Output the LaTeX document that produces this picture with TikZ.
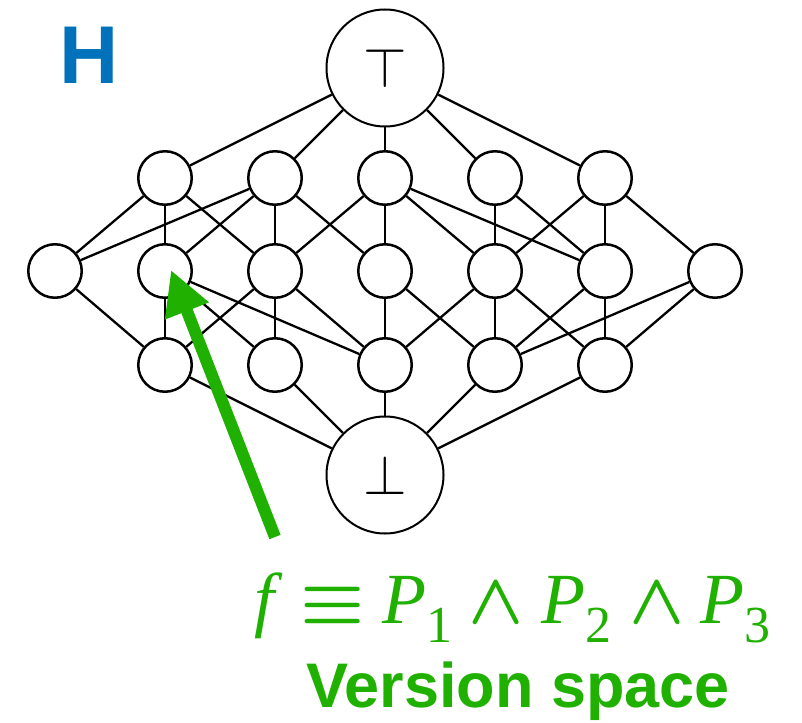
\RequirePackage{fix-cm}
\documentclass[tikz,border=0pt]{standalone}
\usepackage{fontspec}
\setmainfont{Liberation Serif}
\newfontfamily\headsans{Liberation Sans}
\usetikzlibrary{arrows.meta}
\definecolor{hblue}{RGB}{0,114,187}
\definecolor{vsgreen}{RGB}{31,176,0}
% index digits dropped below the baseline
\newcommand\lowdigit[1]{\raisebox{-19pt}{\fontsize{52}{52}\selectfont #1}}
% heavier operator glyphs
\newcommand\heavyop[1]{{\boldmath$#1$}}

\begin{document}
\begin{tikzpicture}[x=1pt,y=-1pt,
  small/.style={circle,draw,line width=2.5pt,minimum size=53.5pt,inner sep=0pt},
  big/.style={circle,draw,line width=2pt,minimum size=117pt,inner sep=0pt,
    font=\fontsize{56}{56}\selectfont},
  link/.style={line width=2.3pt},
  pointer/.style={draw=vsgreen,line width=12pt,
    -{Triangle[length=44pt,width=44pt]}}]
\useasboundingbox (0,0) rectangle (802,722);

% top and bottom elements of the lattice
\node[big] (top) at (385,68) {$\top$};
\node[big] (bot) at (385,475) {$\bot$};

% upper row
\foreach \i/\x in {1/165,2/275,3/385,4/495,5/605}
  \node[small] (a\i) at (\x,178) {};
% middle row
\foreach \i/\x in {1/55,2/165,3/275,4/385,5/495,6/605,7/715}
  \node[small] (b\i) at (\x,271) {};
% lower row
\foreach \i/\x in {1/165,2/275,3/385,4/495,5/605}
  \node[small] (c\i) at (\x,365) {};

% top to upper row
\foreach \i in {1,...,5} \draw[link] (top) -- (a\i);
% upper row to middle row
\foreach \u/\m in {1/1,1/2,1/3, 2/1,2/2,2/3,2/4, 3/3,3/4,3/5,3/6,
                   4/5,4/6, 5/5,5/6,5/7}
  \draw[link] (a\u) -- (b\m);
% middle row to lower row
\foreach \m/\l in {1/1, 2/1,2/2,2/3, 3/1,3/2,3/3, 4/3,4/4,
                   5/3,5/4,5/5, 6/4,6/5, 7/4,7/5}
  \draw[link] (b\m) -- (c\l);
% lower row to bottom
\foreach \i in {1,...,5} \draw[link] (c\i) -- (bot);

% labels
\node[anchor=base west,inner sep=0pt,text=hblue,
  font=\headsans\bfseries\fontsize{82}{82}\selectfont] (hlabel) at (59,84) {H};

\node[anchor=base west,inner sep=0pt,text=vsgreen,
  font=\fontsize{72}{72}\selectfont] (formula) at (254,623)
  {\textit{f}\hspace{18pt}\heavyop{\equiv}\hspace{18pt}\textit{P}\lowdigit{1}\hspace{16pt}\heavyop{\wedge}\hspace{17pt}\textit{P}\lowdigit{2}\hspace{18pt}\heavyop{\wedge}\hspace{16pt}\textit{P}\lowdigit{3}};

\node[anchor=base,inner sep=0pt,text=vsgreen,
  font=\headsans\bfseries\fontsize{63}{63}\selectfont] (vslabel) at (518,707)
  {Version space};

% pointer into the version space
\coordinate (tail) at (275,537);
\coordinate (tip) at (171,270);
\draw[pointer] (tail) -- (tip);
\end{tikzpicture}
\end{document}
